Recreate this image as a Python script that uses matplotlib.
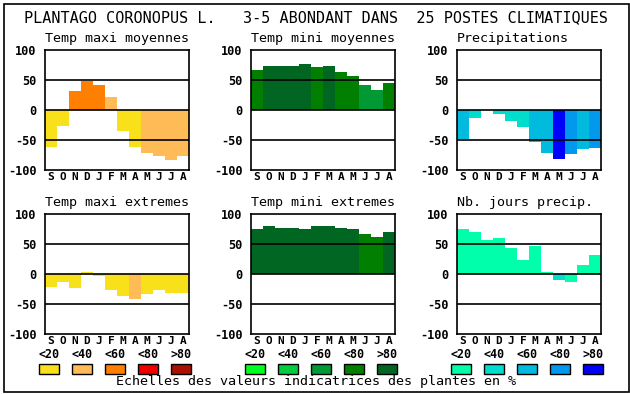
import matplotlib
matplotlib.use("Agg")
import matplotlib.pyplot as plt
from matplotlib.patches import Rectangle

W, H = 630, 394
DPI = 100

months = ["S", "O", "N", "D", "J", "F", "M", "A", "M", "J", "J", "A"]
yticks = [100, 50, 0, -50, -100]
classes = ["<20", "<40", "<60", "<80", ">80"]

main_title = "PLANTAGO CORONOPUS L.   3-5 ABONDANT DANS  25 POSTES CLIMATIQUES"
footer = "Echelles des valeurs indicatrices des plantes en %"

warm = ["#f8e11a", "#ffbb55", "#ff7f00", "#ee0000", "#aa1100"]
green = ["#00ff1f", "#00cc3f", "#009933", "#007f00", "#006622"]
blue = ["#00ffaa", "#00ddcc", "#00bbdd", "#0099ee", "#0000ff"]

tmax_moy = [-61, -27, 32, 49, 42, 22, -35, -61, -71, -76, -83, -76]
tmax_moy_cls = [0, 0, 2, 2, 2, 1, 0, 0, 1, 1, 1, 1]

tmin_moy = [66, 73, 74, 74, 76, 71, 74, 64, 57, 42, 34, 45]
tmin_moy_cls = [3, 4, 4, 4, 4, 3, 4, 3, 3, 2, 2, 3]

precip = [-48, -13, 0, -6, -18, -28, -53, -72, -82, -73, -65, -63]
precip_cls = [2, 1, 1, 1, 1, 1, 2, 2, 4, 3, 2, 3]

tmax_ext = [-21, -14, -24, 4, -4, -27, -37, -41, -34, -27, -32, -32]
tmax_ext_cls = [0, 0, 0, 0, 0, 0, 0, 1, 0, 0, 0, 0]

tmin_ext = [75, 80, 77, 77, 75, 80, 80, 77, 75, 67, 62, 70]
tmin_ext_cls = [4, 4, 4, 4, 4, 4, 4, 4, 4, 3, 3, 4]

njours = [75, 70, 57, 60, 44, 24, 47, 4, -10, -14, 15, 32]
njours_cls = [0, 0, 0, 0, 0, 0, 0, 0, 1, 0, 0, 0]

panels = [
    ("Temp maxi moyennes", tmax_moy, tmax_moy_cls, warm, 45, 50),
    ("Temp mini moyennes", tmin_moy, tmin_moy_cls, green, 251, 50),
    ("Precipitations", precip, precip_cls, blue, 457, 50),
    ("Temp maxi extremes", tmax_ext, tmax_ext_cls, warm, 45, 214),
    ("Temp mini extremes", tmin_ext, tmin_ext_cls, green, 251, 214),
    ("Nb. jours precip.", njours, njours_cls, blue, 457, 214),
]

MONO = ["DejaVu Sans Mono"]
fig = plt.figure(figsize=(W / DPI, H / DPI), dpi=DPI)
fig.patch.set_facecolor("white")

def fx(x):
    return x / W

def fy(y):
    return 1 - y / H

# outer frame
fig.patches.append(Rectangle((fx(4), fy(392)), fx(625), 388 / H, transform=fig.transFigure,
                             fill=False, edgecolor="black", linewidth=1.2))

aw, ah = 144, 120
for title, vals, cls, pal, x0, y0 in panels:
    ax = fig.add_axes([fx(x0), fy(y0 + ah), aw / W, ah / H])
    xs = list(range(len(months)))
    ax.bar(xs, vals, width=1.0, color=[pal[c] for c in cls], linewidth=0, zorder=1)
    for yv in (50, 0, -50):
        ax.axhline(yv, color="black", linewidth=1.2, zorder=3)
    ax.set_xlim(-0.5, 11.5)
    ax.set_ylim(-100, 100)
    ax.set_yticks(yticks)
    ax.set_yticklabels([str(v) for v in yticks], fontfamily=MONO, fontweight="bold", fontsize=8.6)
    ax.set_xticks(xs)
    ax.set_xticklabels(months, fontfamily=MONO, fontweight="bold", fontsize=8)
    ax.tick_params(axis="x", length=0, pad=1.5)
    ax.tick_params(axis="y", length=0, pad=6)
    for s in ax.spines.values():
        s.set_linewidth(1.2)
    ax.set_title(title, fontfamily=MONO, fontsize=9.6, pad=6, loc="left")

# legends
legend_x = [(39, warm), (245, green), (451, blue)]
for lx, pal in legend_x:
    for i, (lab, col) in enumerate(zip(classes, pal)):
        sx = lx + i * 33
        fig.text(fx(sx + 10), fy(355), lab, ha="center", va="center",
                 fontfamily=MONO, fontweight="bold", fontsize=8.4)
        fig.patches.append(Rectangle((fx(sx), fy(374)), 20 / W, 10 / H, transform=fig.transFigure,
                                     facecolor=col, edgecolor="black", linewidth=1.0))

fig.text(fx(316), fy(18), main_title, ha="center", va="center", fontfamily=MONO, fontsize=10.9)
fig.text(fx(316), fy(382), footer, ha="center", va="center", fontfamily=MONO, fontsize=9.6)

fig.savefig("out.png", dpi=DPI, facecolor="white")
